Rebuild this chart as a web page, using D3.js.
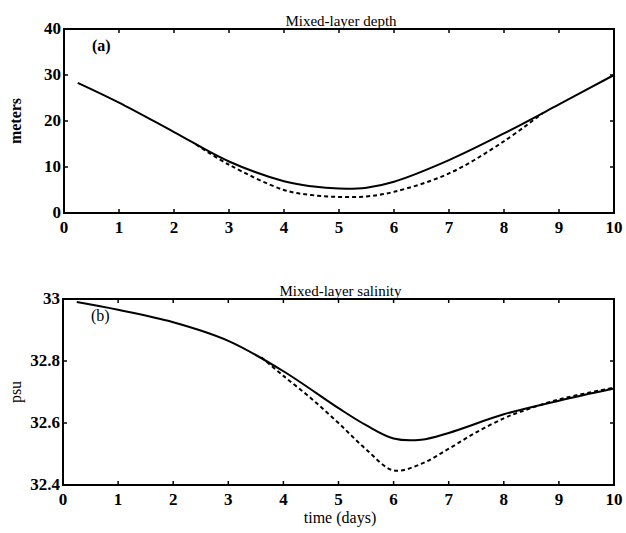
<!DOCTYPE html>
<html>
<head>
<meta charset="utf-8">
<script src="https://cdn.jsdelivr.net/npm/d3@7"></script>
<style>
  body { margin: 0; background: #fff; }
  text { font-family: "Liberation Serif", "Times New Roman", serif; fill: #000; }
  .tick-label { font-size: 17px; font-weight: bold; }
  .title { font-size: 15px; }
</style>
</head>
<body>
<svg width="626" height="533"></svg>
<script>
// time axis ticks (days)
const dayTicks = [0, 1, 2, 3, 4, 5, 6, 7, 8, 9, 10];

// (a) mixed-layer depth, meters
const depthTicks = [0, 10, 20, 30, 40];
const depthSolidDays = [0.25, 1, 2, 3, 4, 4.5, 5, 5.5, 6, 7, 8, 9, 10];
const depthSolid = [28.3, 24.0, 17.6, 11.2, 6.9, 5.8, 5.3, 5.5, 6.8, 11.5, 17.3, 23.6, 30.0];
const depthDashDays = [2.4, 3, 4, 4.5, 5, 5.5, 6, 7, 8, 8.7];
const depthDash = [14.9, 10.5, 5.0, 3.9, 3.5, 3.6, 4.6, 8.6, 15.6, 21.7];

// (b) mixed-layer salinity, psu
const psuTicks = [32.4, 32.6, 32.8, 33];
const psuSolidDays = [0.25, 1, 2, 3, 4, 5, 5.5, 6, 6.5, 7, 8, 9, 10];
const psuSolid = [32.99, 32.965, 32.925, 32.865, 32.767, 32.648, 32.593, 32.55, 32.546, 32.568, 32.628, 32.672, 32.711];
const psuDashDays = [3.6, 4, 4.5, 5, 5.5, 6, 6.5, 7, 7.5, 8, 8.3, 9, 10];
const psuDash = [32.812, 32.752, 32.68, 32.6, 32.515, 32.447, 32.468, 32.517, 32.57, 32.615, 32.636, 32.676, 32.714];

const svg = d3.select('svg');

const panel = (opts) => {
  const x = d3.scaleLinear().domain([0, 10]).range([opts.left, opts.right]);
  const y = d3.scaleLinear().domain(opts.domain).range([opts.bottom, opts.top]);
  const g = svg.append('g');
  const tl = 4;

  // frame
  g.append('rect')
    .attr('x', opts.left).attr('y', opts.top)
    .attr('width', opts.right - opts.left).attr('height', opts.bottom - opts.top)
    .attr('fill', 'none').attr('stroke', '#000').attr('stroke-width', 2);

  // inward ticks
  dayTicks.forEach(d => {
    g.append('line').attr('x1', x(d)).attr('x2', x(d))
      .attr('y1', opts.bottom).attr('y2', opts.bottom - tl).attr('stroke', '#000').attr('stroke-width', 1.5);
    g.append('line').attr('x1', x(d)).attr('x2', x(d))
      .attr('y1', opts.top).attr('y2', opts.top + tl).attr('stroke', '#000').attr('stroke-width', 1.5);
    g.append('text').attr('class', 'tick-label')
      .attr('x', x(d)).attr('y', opts.bottom + 20)
      .attr('text-anchor', 'middle').text(d);
  });
  opts.ticks.forEach(v => {
    g.append('line').attr('x1', opts.left).attr('x2', opts.left + tl)
      .attr('y1', y(v)).attr('y2', y(v)).attr('stroke', '#000').attr('stroke-width', 1.5);
    g.append('line').attr('x1', opts.right).attr('x2', opts.right - tl)
      .attr('y1', y(v)).attr('y2', y(v)).attr('stroke', '#000').attr('stroke-width', 1.5);
    g.append('text').attr('class', 'tick-label')
      .attr('x', opts.left - 3).attr('y', y(v) + 5)
      .attr('text-anchor', 'end').text(opts.fmt(v));
  });

  const line = d3.line()
    .x(d => x(d[0])).y(d => y(d[1]))
    .curve(d3.curveCatmullRom.alpha(0.5));

  g.append('path')
    .datum(d3.zip(opts.dashDays, opts.dash))
    .attr('d', line).attr('fill', 'none').attr('stroke', '#000')
    .attr('stroke-width', 2).attr('stroke-dasharray', '4,3');
  g.append('path')
    .datum(d3.zip(opts.solidDays, opts.solid))
    .attr('d', line).attr('fill', 'none').attr('stroke', '#000')
    .attr('stroke-width', 2);

  g.append('text').attr('class', 'title')
    .attr('x', (opts.left + opts.right) / 2 + 2).attr('y', opts.top - 3)
    .attr('text-anchor', 'middle').text(opts.title);

  g.append('text')
    .attr('x', opts.left + 28).attr('y', opts.top + 22)
    .style('font-size', '16px').style('font-weight', opts.tagWeight)
    .text(opts.tag);

  g.append('text')
    .attr('transform', `translate(21,${(opts.top + opts.bottom) / 2}) rotate(-90)`)
    .attr('text-anchor', 'middle')
    .style('font-size', '16px').style('font-weight', opts.labelWeight)
    .text(opts.ylabel);
};

panel({
  left: 64, right: 614, top: 29, bottom: 213,
  domain: [0, 40], ticks: depthTicks, fmt: d => d,
  solidDays: depthSolidDays, solid: depthSolid,
  dashDays: depthDashDays, dash: depthDash,
  title: 'Mixed-layer depth', tag: '(a)', tagWeight: 'bold',
  ylabel: 'meters', labelWeight: 'bold'
});

panel({
  left: 63, right: 614, top: 299, bottom: 485,
  domain: [32.4, 33], ticks: psuTicks, fmt: d => (d === 33 ? '33' : d3.format('.1f')(d)),
  solidDays: psuSolidDays, solid: psuSolid,
  dashDays: psuDashDays, dash: psuDash,
  title: 'Mixed-layer salinity', tag: '(b)', tagWeight: 'normal',
  ylabel: 'psu', labelWeight: 'normal'
});

svg.append('text')
  .attr('x', 340).attr('y', 523)
  .attr('text-anchor', 'middle')
  .style('font-size', '16px')
  .text('time (days)');
</script>
</body>
</html>
